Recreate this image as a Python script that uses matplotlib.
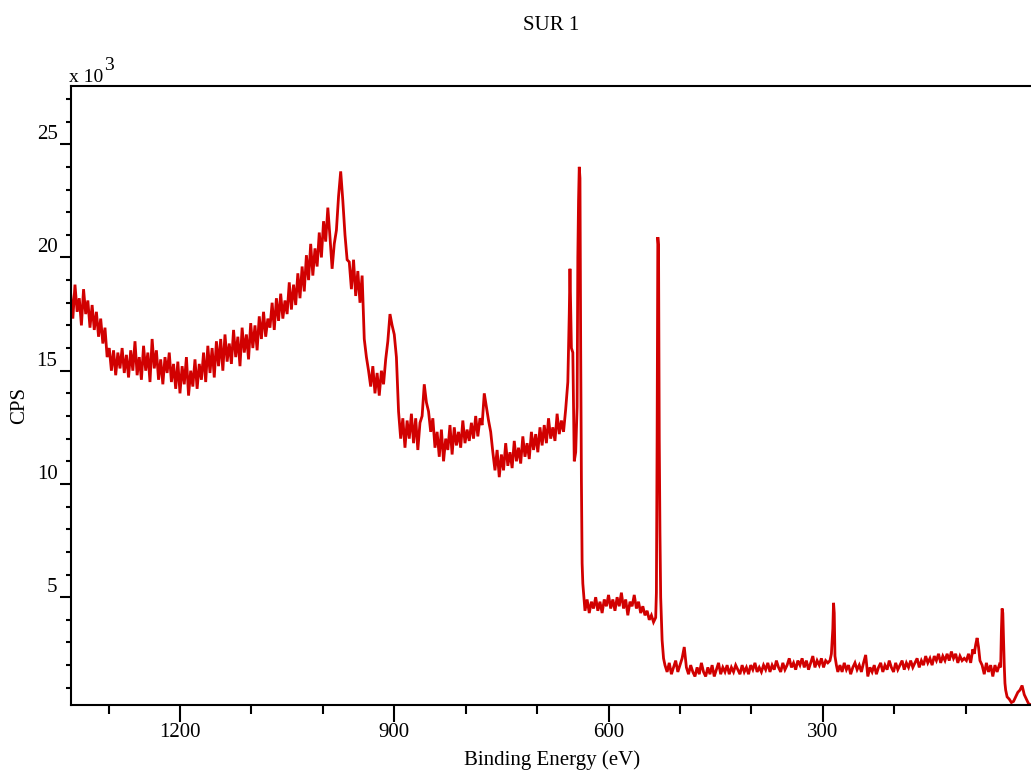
import numpy as np
import matplotlib
matplotlib.use("Agg")
import matplotlib.pyplot as plt
from matplotlib.ticker import MultipleLocator, FixedLocator

plt.rcParams['font.family'] = ['Liberation Serif', 'DejaVu Serif']

title = "SUR 1"
x_label = "Binding Energy (eV)"
y_label = "CPS"
scale_label = "x 10"
scale_exp = "3"
x_major = [1200, 900, 600, 300]
y_major = [5, 10, 15, 20, 25]

# Spectrum values (kCPS); uniform segments use a 3 eV step
step = 3.0
seg_a_start = 1353
seg_a = [18.4, 17.3, 18.8, 17.6, 18.2, 17.0, 18.6, 17.5, 18.1, 16.9, 17.9, 16.8, 17.6, 16.5, 17.3, 16.2,
         16.9, 15.6, 16.0, 15.0, 15.9, 14.8, 15.8, 15.1, 16.0, 14.9, 15.7, 14.7, 15.9, 15.0, 16.3, 14.8,
         15.6, 14.6, 16.1, 15.0, 15.8, 14.5, 16.4, 15.1, 15.9, 14.6, 15.5, 14.4, 15.6, 14.9, 15.8, 14.5,
         15.3, 14.2, 15.4, 14.0, 15.2, 14.4, 15.6, 13.9, 15.0, 14.3, 15.5, 14.2, 15.3, 14.6, 15.8, 14.5,
         16.1, 14.9, 16.0, 14.7, 16.3, 15.2, 16.4, 15.0, 16.6, 15.4, 16.2, 15.3, 16.8, 15.6, 16.5, 15.2,
         16.9, 15.8, 16.6, 15.5, 17.1, 16.0, 17.0, 15.9, 17.4, 16.4, 17.6, 16.5, 17.3, 16.9, 18.0, 16.8,
         18.2, 17.2, 18.4, 17.3, 18.1, 17.5, 18.9, 17.7, 18.8, 17.9, 19.3, 18.2, 19.6, 18.5, 20.1, 19.0,
         20.6, 19.2, 20.4, 19.6, 21.1, 20.0, 21.6, 20.7, 22.2, 20.9, 19.5, 20.6, 21.2, 22.7, 23.8, 22.5,
         21.0, 19.9]

seg_b_start = 963
seg_b = [19.8, 18.6, 19.9, 18.3, 19.4, 18.0, 19.2, 16.4, 15.6, 15.0, 14.3, 15.2, 14.0, 14.9, 13.9, 15.0,
         14.4, 15.5, 16.3, 17.5, 17.0, 16.6, 15.6, 13.2, 12.0, 12.9, 11.6, 12.8, 12.0, 13.1, 11.8, 12.9,
         11.5, 12.7, 13.0, 14.4, 13.6, 13.2, 12.3, 12.9, 11.6, 12.3, 11.2, 12.4, 11.0, 12.0, 11.5, 12.6,
         11.3, 12.5, 11.7, 12.3, 11.6, 12.8, 11.8, 12.4, 11.9, 12.7, 12.0, 13.0, 12.1, 12.9, 12.6, 14.0,
         13.4, 12.8, 12.3, 11.4, 10.6, 11.5, 10.3, 11.3, 10.6, 11.8, 10.8, 11.4, 10.7, 11.9, 11.0, 11.6,
         10.9, 12.1, 11.2, 11.8, 11.1, 12.3, 11.5, 12.2, 11.4, 12.5, 11.7, 12.6, 11.8, 12.9, 12.0, 12.5,
         11.9, 13.1, 12.2, 12.8, 12.3, 13.3]

peak_c_be = [657, 655, 654, 652, 650, 648, 646, 644, 643, 642, 641, 640, 639, 638, 637, 636]
peak_c = [14.5, 17.5, 19.5, 16.0, 15.8, 11.0, 11.4, 13.4, 20.0, 22.5, 24.0, 23.5, 16.0, 10.2, 6.5, 5.6]

seg_d_start = 633
seg_d = [4.4, 4.9, 4.3, 4.8, 4.5, 5.0, 4.4, 4.8, 4.3, 4.9, 4.6, 5.1, 4.5, 4.9, 4.4, 5.0,
         4.6, 5.2, 4.5, 4.9, 4.2, 4.8, 4.6, 5.1, 4.5, 4.8, 4.3, 4.6, 4.2, 4.4, 4.0, 4.2,
         3.9, 4.1]

peak_e_be = [533, 532, 531, 530, 529, 528, 527, 525, 523]
peak_e = [5.2, 12.0, 20.9, 20.5, 12.0, 7.8, 5.0, 3.1, 2.3]

seg_f_start = 521
seg_f = [2.0, 1.7, 2.1, 1.6, 1.9, 2.2, 1.7, 2.0, 2.3, 2.8, 1.9, 1.6, 2.0, 1.7, 1.5, 1.9,
         1.6, 2.1, 1.7, 1.5, 1.9, 1.6, 2.0, 1.5, 1.8, 2.1, 1.6, 1.9, 1.7, 2.0, 1.6, 1.9,
         1.7, 2.0, 1.8, 1.6, 2.0, 1.7, 1.9, 1.6, 2.0, 1.8, 2.1, 1.7, 1.9, 1.7, 2.0, 1.8,
         2.1, 1.7, 2.0, 1.8, 2.2, 1.9, 1.7, 2.1, 1.8, 2.0, 2.3, 1.9, 2.1, 1.8, 2.2, 2.0,
         2.3, 1.9, 2.2, 1.8, 2.1, 2.4, 1.9, 2.2, 2.0, 2.3, 1.9, 2.2, 2.1]

peak_g_be = [290, 288, 286, 285, 284, 283, 281, 279]
peak_g = [2.2, 2.5, 3.6, 4.75, 4.3, 2.4, 2.0, 1.7]

seg_h_start = 276
seg_h = [2.0, 1.7, 2.1, 1.8, 2.0, 1.6, 1.9, 2.1, 1.8, 2.0, 1.7, 2.1, 2.45, 1.5, 1.9, 1.7,
         2.0, 1.6, 1.9, 2.1, 1.7, 2.0, 1.8, 2.2, 1.9, 1.7, 2.1, 1.8, 2.0, 2.2, 1.8, 2.1,
         1.9, 2.2, 1.9, 2.1, 2.3, 1.9, 2.2, 2.0, 2.4, 2.1, 2.3, 2.0, 2.4, 2.2, 2.5, 2.1,
         2.4, 2.2, 2.5, 2.2, 2.6, 2.3, 2.5, 2.1, 2.4, 2.2, 2.3]

tail_i_be = [99, 96, 93, 90, 88, 86, 84, 82, 80, 77, 74, 71, 68, 65, 62, 59, 56, 53, 51, 50,
             49, 48, 47, 46, 45, 44, 42, 39, 36, 33, 30, 27, 24, 21, 18, 15, 12, 9, 6, 3, 0]
tail_i = [2.2, 2.5, 2.1, 2.7, 2.5, 2.9, 3.2, 2.8, 2.2, 2.0, 1.6, 2.1, 1.7, 2.0, 1.5, 2.0, 1.7, 2.0, 1.9, 3.5,
          4.5, 4.3, 3.1, 2.0, 1.2, 0.9, 0.6, 0.5, 0.35, 0.4, 0.6, 0.8, 0.9, 1.1, 0.7, 0.5, 0.3, 0.25, 0.2, 0.2, 0.2]


def uniform(start, vals):
    return list(start - step * np.arange(len(vals)))


be = (uniform(seg_a_start, seg_a) + uniform(seg_b_start, seg_b) + peak_c_be +
      uniform(seg_d_start, seg_d) + peak_e_be + uniform(seg_f_start, seg_f) + peak_g_be +
      uniform(seg_h_start, seg_h) + tail_i_be)
cps = seg_a + seg_b + peak_c + seg_d + peak_e + seg_f + peak_g + seg_h + tail_i

W, H = 1031, 773
fig = plt.figure(figsize=(W / 100, H / 100), dpi=100)
fig.patch.set_facecolor("white")

left_px, right_px, top_px, bot_px = 70.7, 1037.1, 86, 705
ax = fig.add_axes([left_px / W, 1 - bot_px / H, (right_px - left_px) / W, (bot_px - top_px) / H])
ax.plot(be, cps, color="#d10000", lw=2.0, solid_joinstyle="miter")
ax.set_xlim(1353, 0)
ax.set_ylim(0.24, 27.57)

ax.spines["right"].set_visible(False)
for s in ("left", "bottom", "top"):
    ax.spines[s].set_linewidth(1.5)
    ax.spines[s].set_color("black")

ax.xaxis.set_major_locator(FixedLocator(x_major))
ax.xaxis.set_minor_locator(MultipleLocator(100))
ax.yaxis.set_major_locator(FixedLocator(y_major))
ax.yaxis.set_minor_locator(MultipleLocator(1))
ax.tick_params(axis="x", which="major", direction="out", length=12, width=1.5, pad=1, labelsize=15)
ax.tick_params(axis="x", which="minor", direction="out", length=6.7, width=1.5)
ax.tick_params(axis="y", which="major", direction="out", length=8, width=1.5, pad=1.5, labelsize=15)
ax.tick_params(axis="y", which="minor", direction="out", length=3.8, width=1.5)
for lab in ax.get_yticklabels():
    lab.set_verticalalignment("bottom")

fig.text(551 / W, 1 - 25 / H, title, ha="center", va="center", fontsize=15)
fig.text(552 / W, 1 - 760 / H, x_label, ha="center", va="center", fontsize=15)
fig.text(20 / W, 1 - 405 / H, y_label, ha="center", va="center", rotation=90, fontsize=15)
fig.text(69 / W, 1 - 82 / H, scale_label, ha="left", va="baseline", fontsize=14)
fig.text(104 / W, 1 - 70 / H, scale_exp, ha="left", va="baseline", fontsize=14)

fig.savefig("out.png", dpi=100, facecolor="white")
